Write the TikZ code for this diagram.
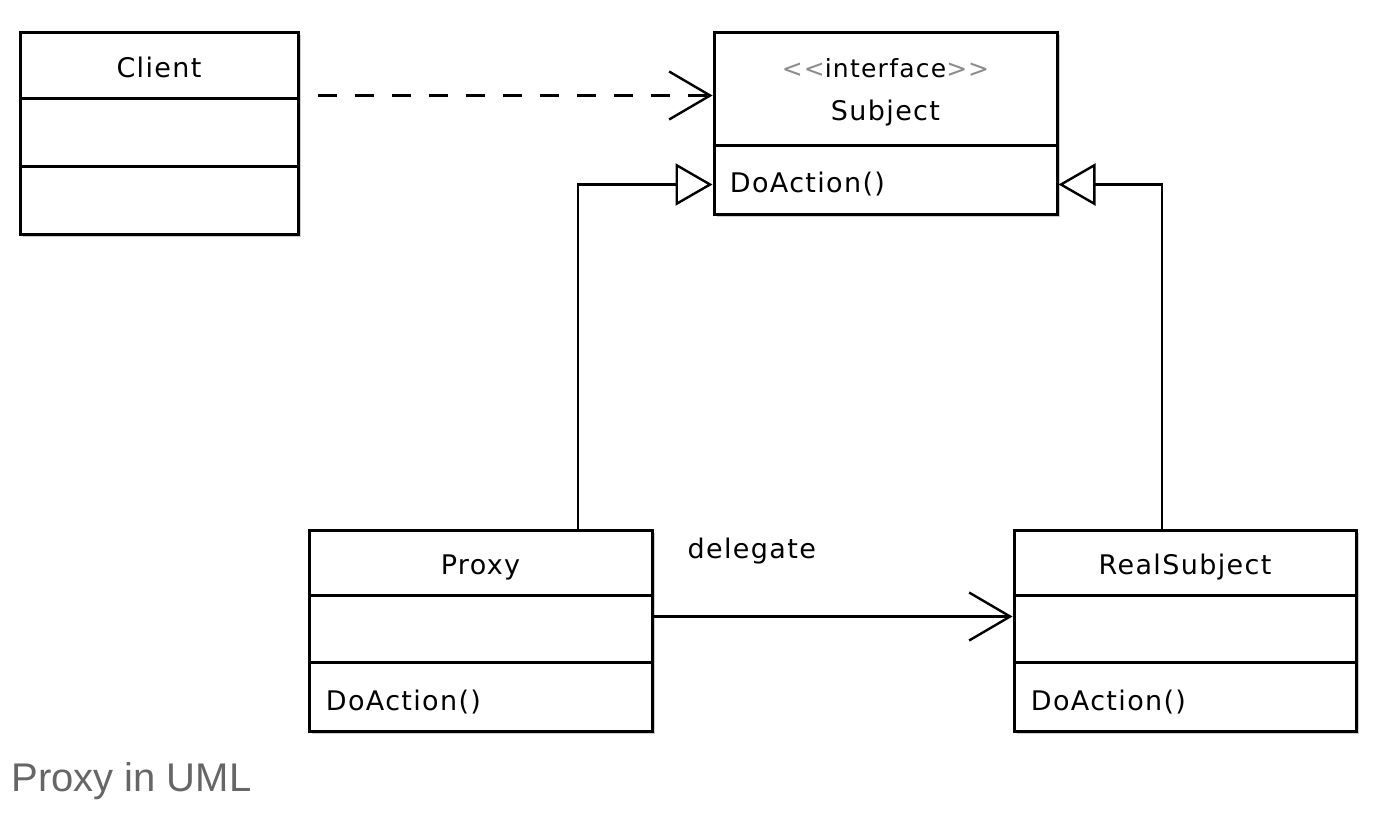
\documentclass[tikz,border=0pt]{standalone}
\usepackage{fontspec}
\usepackage{xcolor}
\setmainfont{DejaVu Sans}[LetterSpace=5]
\newfontfamily\captionfont{Liberation Sans}
\usetikzlibrary{arrows.meta,shadows}

\tikzset{
  classbox/.style={draw, line width=1.5pt, fill=white, inner sep=0pt,
    drop shadow={shadow xshift=1.5pt, shadow yshift=-1.5pt, opacity=0.4}},
  classtitle/.style={inner sep=0pt, font=\fontsize{13.5}{16}\selectfont},
  classop/.style={inner sep=0pt, anchor=west, font=\fontsize{13.5}{16}\selectfont},
  conn/.style={line width=1.2pt},
  dep/.style={conn, dash pattern=on 9.5pt off 9pt, dash phase=9.5pt,
    -{Straight Barb[length=20.5pt, width=24pt, line width=1.2pt]}},
  gen/.style={conn, -{Triangle[open, length=18.5pt, width=21pt, fill=white]}},
  assoc/.style={conn, -{Straight Barb[length=20.5pt, width=24pt, line width=1.2pt]}}
}

% divider between compartments, offset from the top of a class box
\newcommand{\compline}[2]{%
  \draw[line width=1.5pt] ([yshift=-#2]#1.north west) -- ([yshift=-#2]#1.north east);}

\begin{document}
\begin{tikzpicture}[x=0.5pt,y=-0.5pt]
  \fill[white] (0,0) rectangle (1380,814);

  % class boxes
  \node[classbox, minimum width=139pt, minimum height=101pt] (client) at (159,133) {};
  \node[classbox, minimum width=171.5pt, minimum height=91pt] (subject) at (885.5,123) {};
  \node[classbox, minimum width=171.5pt, minimum height=100.5pt] (proxy) at (480.5,630.5) {};
  \node[classbox, minimum width=171pt, minimum height=100.5pt] (realsubject) at (1185,630.5) {};

  \compline{client}{34pt}
  \compline{client}{68pt}
  \compline{subject}{57.5pt}
  \compline{proxy}{33.5pt}
  \compline{proxy}{67pt}
  \compline{realsubject}{33.5pt}
  \compline{realsubject}{67pt}

  % names and operations
  \node[classtitle] (clientname) at ([yshift=-18.5pt]client.north) {Client};
  \node[classtitle, font=\fontsize{12.5}{15}\selectfont] (stereo) at ([yshift=-19pt]subject.north)
    {\textcolor{black!45}{<\kern0.5pt<}interface\textcolor{black!45}{>\kern0.5pt>}};
  \node[classtitle] (subjectname) at ([yshift=-41.5pt]subject.north) {Subject};
  \node[classop] (subjectop) at ([xshift=8.5pt, yshift=15.5pt]subject.south west) {DoAction()};
  \node[classtitle] (proxyname) at ([yshift=-19.5pt]proxy.north) {Proxy};
  \node[classop] (proxyop) at ([xshift=9pt, yshift=15pt]proxy.south west) {DoAction()};
  \node[classtitle] (realname) at ([yshift=-19.5pt]realsubject.north) {RealSubject};
  \node[classop] (realop) at ([xshift=9pt, yshift=15pt]realsubject.south west) {DoAction()};

  % connectors
  \draw[dep] ([yshift=-32.5pt]client.north east) -- ([yshift=-32.5pt]subject.north west);
  \coordinate (genleft) at ([yshift=15.5pt]subject.south west);
  \coordinate (genright) at ([yshift=15.5pt]subject.south east);
  \draw[gen] ([xshift=48.75pt]proxy.north) |- (genleft);
  \draw[gen] ([xshift=-11.5pt]realsubject.north) |- (genright);
  \draw[assoc] ([yshift=-44pt]proxy.north east) -- ([yshift=-44pt]realsubject.north west)
    node[pos=0, anchor=west, inner sep=0pt, xshift=16.5pt, yshift=32.5pt,
      font=\fontsize{13.5}{16}\selectfont] (delegate) {delegate};

  % caption
  \node[anchor=west, inner sep=0pt, text=black!60, font=\captionfont\fontsize{20}{24}\selectfont]
    (caption) at (11,781) {Proxy in UML};
\end{tikzpicture}
\end{document}
